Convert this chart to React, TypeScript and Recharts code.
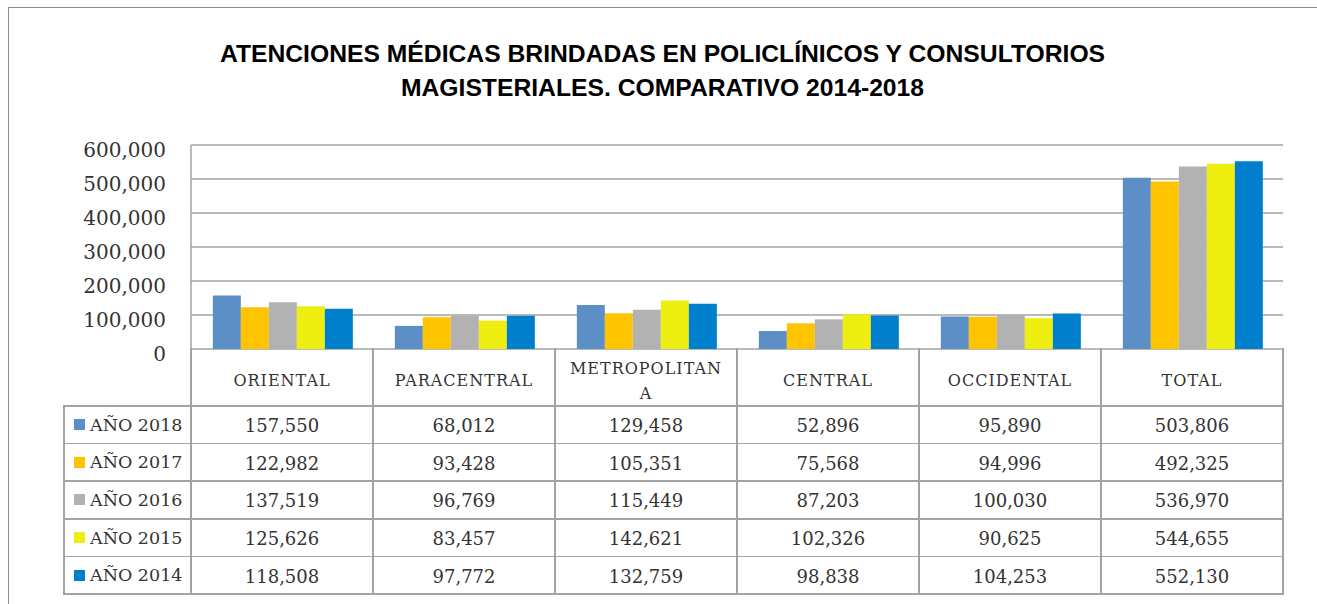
import React from 'react';
import { BarChart, Bar, XAxis, YAxis, CartesianGrid } from 'recharts';

const titleLines = [
  'ATENCIONES MÉDICAS BRINDADAS EN POLICLÍNICOS Y CONSULTORIOS',
  'MAGISTERIALES. COMPARATIVO 2014-2018',
];

const categories = ['ORIENTAL', 'PARACENTRAL', 'METROPOLITANA', 'CENTRAL', 'OCCIDENTAL', 'TOTAL'];

const seriesLabels = ['AÑO 2018', 'AÑO 2017', 'AÑO 2016', 'AÑO 2015', 'AÑO 2014'];
const seriesKeys = ['y2018', 'y2017', 'y2016', 'y2015', 'y2014'];
const seriesColors = ['#5B8FC6', '#FFC400', '#B2B2B2', '#EEEE10', '#0080CC'];

const values2018 = [157550, 68012, 129458, 52896, 95890, 503806];
const values2017 = [122982, 93428, 105351, 75568, 94996, 492325];
const values2016 = [137519, 96769, 115449, 87203, 100030, 536970];
const values2015 = [125626, 83457, 142621, 102326, 90625, 544655];
const values2014 = [118508, 97772, 132759, 98838, 104253, 552130];

const yTicks = [0, 100000, 200000, 300000, 400000, 500000, 600000];

const seriesValues = [values2018, values2017, values2016, values2015, values2014];

const data = categories.map((c, i) => {
  const row: Record<string, any> = { category: c };
  seriesKeys.forEach((k, j) => {
    row[k] = seriesValues[j][i];
  });
  return row;
});

const W = 1317;
const H = 604;
const PLOT_L = 191;
const PLOT_R = 1283;
const PLOT_T = 145;
const PLOT_B = 349;
const Y_W = 150;
const LEG_L = 64;
const HEAD_B = 406;
const TABLE_B = 594;
const LINE = '#a3a3a3';
const TXT = '#333333';
const SERIF = '"DejaVu Serif", serif';

const colW = (PLOT_R - PLOT_L) / categories.length;
const rowH = (TABLE_B - HEAD_B) / seriesLabels.length;

const fmt = (v: number) => v.toLocaleString('en-US');

const chunk = (s: string, n: number) => {
  const out: string[] = [];
  for (let i = 0; i < s.length; i += n) out.push(s.slice(i, i + n));
  return out;
};

const YTick = (props: any) => {
  const { x, y, payload } = props;
  return (
    <text x={x} y={y + 11.5} textAnchor="end" fontFamily={SERIF} fontSize={20} fill={TXT}>
      {fmt(payload.value)}
    </text>
  );
};

const HLine = ({ y, x1, x2 }: { y: number; x1: number; x2: number }) => (
  <div style={{ position: 'absolute', left: x1 - 0.75, top: y - 0.75, width: x2 - x1 + 1.5, height: 1.5, background: LINE }} />
);
const VLine = ({ x, y1, y2 }: { x: number; y1: number; y2: number }) => (
  <div style={{ position: 'absolute', left: x - 0.75, top: y1 - 0.75, width: 1.5, height: y2 - y1 + 1.5, background: LINE }} />
);

export default function App() {
  return (
    <div
      style={{
        position: 'absolute',
        left: 0,
        top: 0,
        width: W,
        height: H,
        overflow: 'hidden',
        background: '#fff',
      }}
    >
      <div
        style={{
          position: 'absolute',
          left: 8,
          top: 7,
          width: W + 20,
          height: H + 20,
          borderLeft: '1.5px solid #8c8c8c',
          borderTop: '1.5px solid #8c8c8c',
        }}
      />
      {titleLines.map((t, i) => (
        <div
          key={i}
          style={{
            position: 'absolute',
            left: 0,
            width: 1325,
            top: 37 + i * 34,
            lineHeight: '34px',
            textAlign: 'center',
            fontFamily: '"Liberation Sans", Arial, sans-serif',
            fontWeight: 'bold',
            fontSize: 24.7,
            color: '#000',
            whiteSpace: 'nowrap',
          }}
        >
          {t}
        </div>
      ))}
      <div style={{ position: 'absolute', left: 0, top: 0 }}>
        <BarChart
          width={W}
          height={H}
          data={data}
          margin={{ top: PLOT_T, right: W - PLOT_R, bottom: H - PLOT_B, left: PLOT_L - Y_W }}
          barCategoryGap="12%"
          barGap={0}
        >
          <CartesianGrid vertical={false} stroke={LINE} strokeWidth={1.5} />
          <XAxis dataKey="category" height={0} tick={false} tickLine={false} axisLine={{ stroke: LINE, strokeWidth: 1.5 }} />
          <YAxis
            width={Y_W}
            domain={[0, 600000]}
            ticks={yTicks}
            interval={0}
            tickSize={0}
            tickMargin={25}
            tickLine={false}
            axisLine={{ stroke: LINE, strokeWidth: 1.5 }}
            tick={<YTick />}
          />
          {seriesKeys.map((k, j) => (
            <Bar key={k} dataKey={k} name={seriesLabels[j]} fill={seriesColors[j]} isAnimationActive={false} />
          ))}
        </BarChart>
      </div>

      {/* data table */}
      {seriesLabels.map((_, j) => (
        <HLine key={'h' + j} y={HEAD_B + j * rowH} x1={LEG_L} x2={PLOT_R} />
      ))}
      <HLine y={TABLE_B} x1={LEG_L} x2={PLOT_R} />
      <VLine x={LEG_L} y1={HEAD_B} y2={TABLE_B} />
      {categories.map((_, i) => (
        <VLine key={'v' + i} x={PLOT_L + i * colW} y1={PLOT_B} y2={TABLE_B} />
      ))}
      <VLine x={PLOT_R} y1={PLOT_B} y2={TABLE_B} />

      {categories.map((c, i) => (
        <div
          key={'c' + i}
          style={{
            position: 'absolute',
            left: PLOT_L + i * colW,
            top: PLOT_B + 3,
            width: colW,
            height: HEAD_B - PLOT_B,
            display: 'flex',
            flexDirection: 'column',
            alignItems: 'center',
            justifyContent: 'center',
            fontFamily: SERIF,
            fontSize: 16,
            letterSpacing: 1,
            lineHeight: '25px',
            color: TXT,
          }}
        >
          {chunk(c, 12).map((ln, k) => (
            <div key={k}>{ln}</div>
          ))}
        </div>
      ))}

      {seriesLabels.map((lab, j) => (
        <div
          key={'l' + j}
          style={{
            position: 'absolute',
            left: LEG_L,
            top: HEAD_B + j * rowH,
            width: PLOT_L - LEG_L,
            height: rowH,
            display: 'flex',
            alignItems: 'center',
            paddingLeft: 10,
            boxSizing: 'border-box',
            fontFamily: SERIF,
            fontSize: 17.5,
            color: TXT,
            whiteSpace: 'nowrap',
          }}
        >
          <span style={{ display: 'inline-block', width: 11, height: 11, background: seriesColors[j], marginRight: 5 }} />
          <span>{lab}</span>
        </div>
      ))}

      {seriesValues.map((vals, j) =>
        vals.map((v, i) => (
          <div
            key={'d' + j + '-' + i}
            style={{
              position: 'absolute',
              left: PLOT_L + i * colW,
              top: HEAD_B + j * rowH + 1,
              width: colW,
              height: rowH,
              display: 'flex',
              alignItems: 'center',
              justifyContent: 'center',
              fontFamily: SERIF,
              fontSize: 18,
              color: TXT,
            }}
          >
            {fmt(v)}
          </div>
        ))
      )}
    </div>
  );
}
